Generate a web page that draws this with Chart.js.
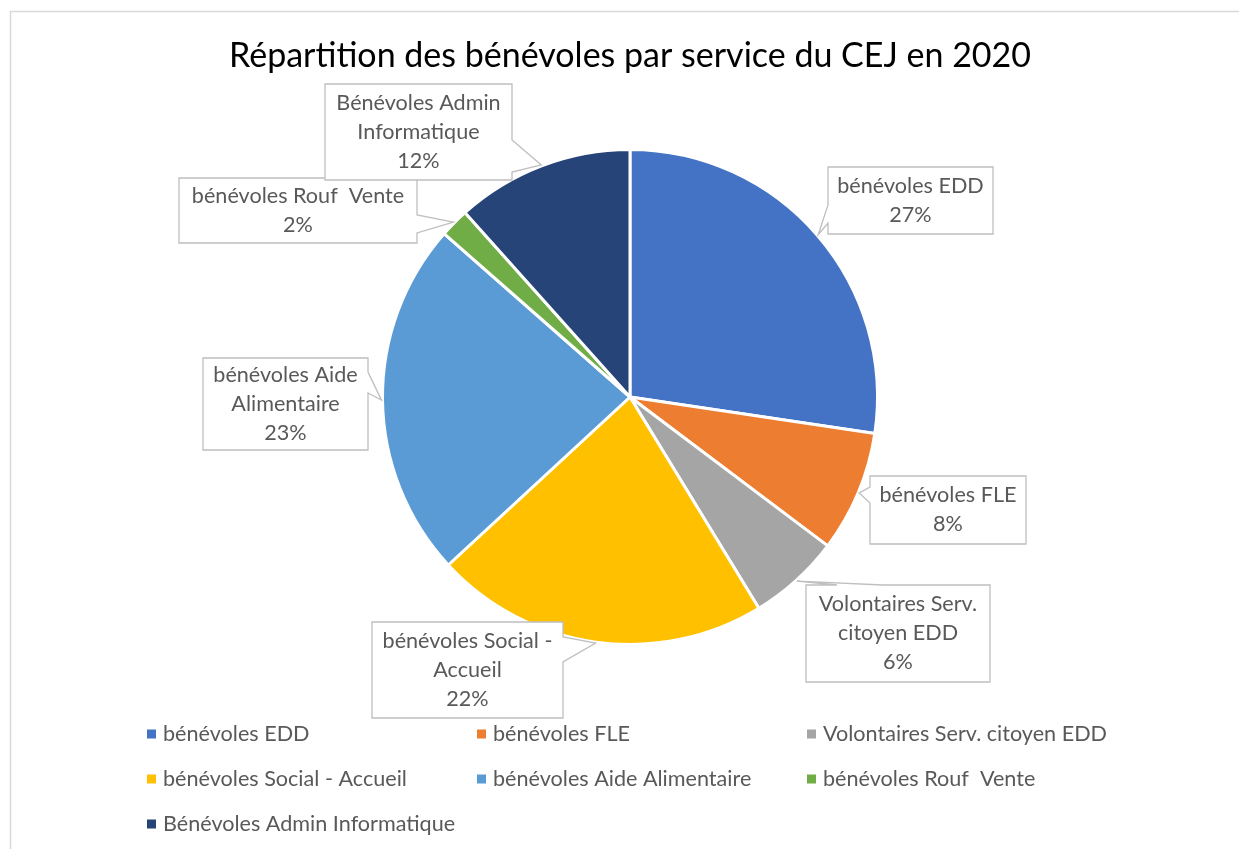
<!DOCTYPE html>
<html><head><meta charset="utf-8">
<script src="https://cdn.jsdelivr.net/npm/chart.js@4.4.0/dist/chart.umd.min.js"></script>
<style>html,body{margin:0;padding:0;background:#fff;overflow:hidden}</style>
</head><body>
<canvas id="c" width="1239" height="849" style="display:block;width:1239px;height:849px"></canvas>
<script>
const categories = ['bénévoles EDD','bénévoles FLE','Volontaires Serv. citoyen EDD','bénévoles Social - Accueil','bénévoles Aide Alimentaire','bénévoles Rouf  Vente','Bénévoles Admin Informatique'];
const shares = [27.3, 7.9, 6.0, 21.8, 23.3, 1.9, 11.6];
const colors = ['#4472C4','#ED7D31','#A5A5A5','#FFC000','#5B9BD5','#70AD47','#264478'];
const titleText = 'Répartition des bénévoles par service du CEJ en 2020';

const FONT = 'Lato';
const TEXT_COLOR = '#595959';

// callout box layout (pixels), one per category
const callouts = [
  {x:828,y:167,w:165,h:67,side:'left',b0:205,b1:223},
  {x:870,y:476,w:156,h:68,side:'left',b0:487,b1:503},
  {x:806,y:585,w:184,h:97,side:'top',b0:837,b1:883},
  {x:372,y:622,w:191,h:96,side:'right',b0:637,b1:662},
  {x:203,y:358,w:165,h:92,side:'right',b0:372,b1:393},
  {x:179,y:178,w:238,h:65,side:'right',b0:215,b1:233},
  {x:325,y:84,w:187,h:96,side:'right',b0:140,b1:172}
];
const legendCols = [147, 477, 807];
const legendRows = [734, 779, 824];

function wrap(ctx, text, maxW){
  const words = text.split(' ');
  const lines = [];
  let cur = '';
  for (let i=0;i<words.length;i++){
    const w = words[i];
    const test = cur === '' ? w : cur + ' ' + w;
    if (cur !== '' && w !== '' && ctx.measureText(test).width > maxW){
      lines.push(cur); cur = w;
    } else cur = test;
  }
  if (cur !== '') lines.push(cur);
  return lines;
}

const decor = {
  id:'decor',
  beforeDraw(chart){
    const ctx = chart.ctx;
    ctx.save();
    ctx.fillStyle = '#fff';
    ctx.fillRect(0,0,chart.width,chart.height);
    ctx.strokeStyle = '#D9D9D9';
    ctx.lineWidth = 1.5;
    ctx.strokeRect(10.5, 11.5, 1400, 1000);
    ctx.fillStyle = '#000';
    ctx.font = '34px ' + FONT;
    ctx.textAlign = 'center';
    ctx.textBaseline = 'alphabetic';
    ctx.fillText(titleText, 630, 67);
    ctx.restore();
  },
  afterDatasetsDraw(chart){
    const ctx = chart.ctx;
    const meta = chart.getDatasetMeta(0);
    const data = chart.data.datasets[0].data;
    const total = data.reduce((a,b)=>a+b,0);
    ctx.save();
    ctx.font = '21.6px ' + FONT;
    meta.data.forEach((arc, i) => {
      const c = callouts[i];
      const p = arc.getProps(['x','y','startAngle','endAngle','outerRadius'], true);
      const mid = (p.startAngle + p.endAngle)/2;
      const tx = p.x + Math.cos(mid)*(p.outerRadius+1);
      const ty = p.y + Math.sin(mid)*(p.outerRadius+1);
      ctx.beginPath();
      const L=c.x, T=c.y, R=c.x+c.w, B=c.y+c.h;
      ctx.moveTo(L,T);
      if (c.side==='top'){ ctx.lineTo(c.b0,T); ctx.lineTo(tx,ty); ctx.lineTo(c.b1,T); }
      ctx.lineTo(R,T);
      if (c.side==='right'){ ctx.lineTo(R,c.b0); ctx.lineTo(tx,ty); ctx.lineTo(R,c.b1); }
      ctx.lineTo(R,B);
      ctx.lineTo(L,B);
      if (c.side==='left'){ ctx.lineTo(L,c.b1); ctx.lineTo(tx,ty); ctx.lineTo(L,c.b0); }
      ctx.closePath();
      ctx.fillStyle = '#fff';
      ctx.fill();
      ctx.strokeStyle = '#BFBFBF';
      ctx.lineWidth = 1.3;
      ctx.stroke();
      const lines = wrap(ctx, chart.data.labels[i], c.w - 12);
      lines.push(Math.round(data[i]/total*100) + '%');
      const lh = 29;
      const cy = c.y + c.h/2;
      const y0 = cy - (lines.length-1)*lh/2;
      ctx.fillStyle = TEXT_COLOR;
      ctx.textAlign = 'center';
      ctx.textBaseline = 'middle';
      lines.forEach((ln, k) => ctx.fillText(ln, c.x + c.w/2, y0 + k*lh));
    });
    // legend
    chart.data.labels.forEach((lab, i) => {
      const col = i % 3, row = Math.floor(i/3);
      const x = legendCols[col], y = legendRows[row];
      ctx.fillStyle = chart.data.datasets[0].backgroundColor[i];
      ctx.fillRect(x, y-4.5, 9, 9);
      ctx.fillStyle = TEXT_COLOR;
      ctx.textAlign = 'left';
      ctx.textBaseline = 'middle';
      ctx.fillText(lab, x+16, y);
    });
    ctx.restore();
  }
};

new Chart(document.getElementById('c'), {
  type:'pie',
  data:{ labels: categories, datasets:[{ data: shares, backgroundColor: colors, borderColor:'#fff', borderWidth:3 }] },
  options:{
    responsive:false, animation:false,
    layout:{ padding:{ left:381, right:360, top:148, bottom:203 } },
    plugins:{ legend:{display:false}, tooltip:{enabled:false}, title:{display:false} }
  },
  plugins:[decor]
});
</script>
</body></html>
